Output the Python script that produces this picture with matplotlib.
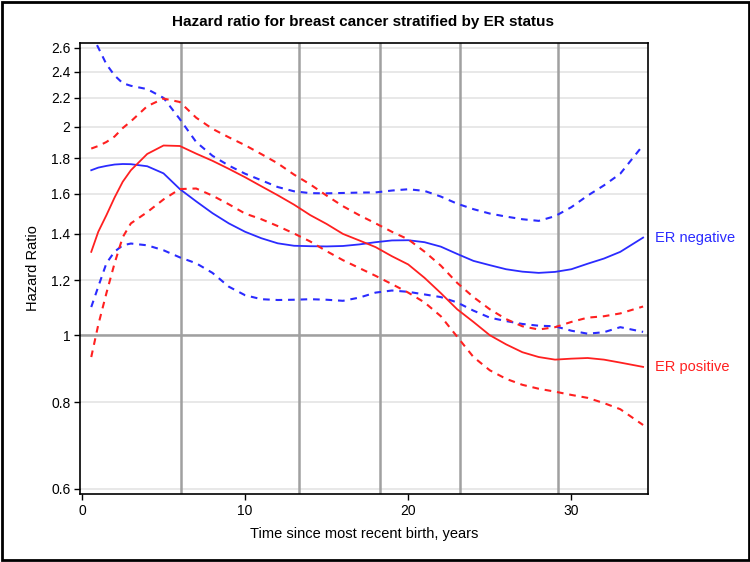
import numpy as np
import matplotlib
matplotlib.use("Agg")
import matplotlib.pyplot as plt
from matplotlib.ticker import FixedLocator, NullLocator
from matplotlib.patches import Rectangle
from matplotlib.transforms import blended_transform_factory

plt.rcParams['font.family'] = ['Liberation Sans', 'DejaVu Sans']

# ---- data ----
t = [0.57, 1, 1.5, 2, 2.5, 3, 4, 5, 6, 7, 8, 9, 10, 11, 12, 13, 14, 15, 16, 17,
     18, 19, 20, 21, 22, 23, 24, 25, 26, 27, 28, 29, 30, 31, 32, 33, 34.4]

er_neg_hr = [1.73, 1.745, 1.755, 1.763, 1.766, 1.765, 1.753, 1.712, 1.625, 1.56, 1.50, 1.45,
             1.41, 1.38, 1.357, 1.346, 1.344, 1.343, 1.345, 1.352, 1.362, 1.37, 1.371, 1.362,
             1.342, 1.31, 1.28, 1.262, 1.245, 1.235, 1.23, 1.234, 1.245, 1.268, 1.29, 1.319, 1.383]
er_neg_lo = [1.098, 1.175, 1.27, 1.32, 1.348, 1.356, 1.348, 1.326, 1.295, 1.27, 1.23, 1.175,
             1.142, 1.127, 1.124, 1.125, 1.127, 1.125, 1.121, 1.133, 1.152, 1.16, 1.155, 1.145,
             1.135, 1.115, 1.085, 1.06, 1.048, 1.038, 1.032, 1.03, 1.015, 1.005, 1.01, 1.027, 1.011]
er_neg_hi = [2.72, 2.60, 2.46, 2.37, 2.31, 2.29, 2.265, 2.20, 2.05, 1.90, 1.815, 1.757,
             1.71, 1.673, 1.636, 1.613, 1.603, 1.602, 1.604, 1.606, 1.607, 1.617, 1.624, 1.615,
             1.585, 1.548, 1.52, 1.498, 1.483, 1.47, 1.462, 1.485, 1.53, 1.59, 1.645, 1.71, 1.88]

er_pos_hr = [1.319, 1.41, 1.49, 1.58, 1.665, 1.73, 1.826, 1.878, 1.875, 1.828, 1.785, 1.738,
             1.69, 1.64, 1.592, 1.543, 1.49, 1.447, 1.40, 1.37, 1.34, 1.30, 1.265, 1.21,
             1.15, 1.09, 1.045, 1.0, 0.97, 0.945, 0.93, 0.922, 0.925, 0.927, 0.922, 0.913, 0.90]
er_pos_lo = [0.93, 1.035, 1.15, 1.27, 1.385, 1.45, 1.505, 1.57, 1.625, 1.628, 1.59, 1.545,
             1.498, 1.47, 1.437, 1.402, 1.365, 1.322, 1.283, 1.25, 1.218, 1.185, 1.152, 1.115,
             1.065, 0.995, 0.93, 0.89, 0.865, 0.848, 0.837, 0.829, 0.82, 0.812, 0.798, 0.782, 0.742]
er_pos_hi = [1.859, 1.875, 1.90, 1.935, 1.99, 2.035, 2.14, 2.195, 2.17, 2.06, 1.985, 1.93,
             1.88, 1.825, 1.77, 1.705, 1.65, 1.59, 1.535, 1.49, 1.45, 1.41, 1.375, 1.32,
             1.26, 1.19, 1.135, 1.09, 1.055, 1.03, 1.019, 1.027, 1.045, 1.06, 1.065, 1.075, 1.10]

vlines = [6.1, 13.3, 18.3, 23.2, 29.2]
yticks = [0.6, 0.8, 1, 1.2, 1.4, 1.6, 1.8, 2, 2.2, 2.4, 2.6]
ytick_labels = ["0.6", "0.8", "1", "1.2", "1.4", "1.6", "1.8", "2", "2.2", "2.4", "2.6"]
xticks = [0, 10, 20, 30]

BLUE = "#2b2bff"
RED = "#ff2020"

fig = plt.figure(figsize=(7.5, 5.62), dpi=100)
ax = fig.add_axes([80/750, 1-494/562, (648-80)/750, (494-43)/562])
ax.set_yscale('log')
ax.set_xlim(-0.12, 34.7)
ax.set_ylim(0.59, 2.64)

for y in yticks:
    ax.axhline(y, color="#e4e4e4", lw=1.2, zorder=0)
ax.axhline(1, color="#a0a0a0", lw=1.8, zorder=1)
for v in vlines:
    ax.axvline(v, color="#a0a0a0", lw=1.8, zorder=1)

dash = (0, (3.2, 2.8))
ax.plot(t, er_neg_hr, color=BLUE, lw=1.3, zorder=3)
ax.plot(t, er_neg_lo, color=BLUE, lw=1.5, ls=dash, zorder=3)
ax.plot(t, er_neg_hi, color=BLUE, lw=1.5, ls=dash, zorder=3)
ax.plot(t, er_pos_hr, color=RED, lw=1.3, zorder=3)
ax.plot(t, er_pos_lo, color=RED, lw=1.5, ls=dash, zorder=3)
ax.plot(t, er_pos_hi, color=RED, lw=1.5, ls=dash, zorder=3)

ax.yaxis.set_major_locator(FixedLocator(yticks))
ax.yaxis.set_minor_locator(NullLocator())
ax.set_yticklabels(ytick_labels)
ax.set_xticks(xticks)
ax.tick_params(axis='both', labelsize=10, length=4, width=1, color='black', pad=3)

for s in ax.spines.values():
    s.set_color('black')
    s.set_linewidth(1.2)

ax.set_xlabel("Time since most recent birth, years", fontsize=10.5, labelpad=7)
ax.set_ylabel("Hazard Ratio", fontsize=10.5, labelpad=8)
fig.text(363/750, 1-22/562, "Hazard ratio for breast cancer stratified by ER status",
         ha='center', va='center', fontsize=11, fontweight='bold')

tr = blended_transform_factory(fig.transFigure, ax.transData)
fig.text(655/750, er_neg_hr[-1], "ER negative", transform=tr,
         color=BLUE, fontsize=10.5, va='center', ha='left')
fig.text(655/750, er_pos_hr[-1], "ER positive", transform=tr,
         color=RED, fontsize=10.5, va='center', ha='left')

fig.patches.append(Rectangle((0.002, 0.003), 0.996, 0.994, transform=fig.transFigure,
                             fill=False, edgecolor='black', lw=2))
fig.savefig("out.png", dpi=100)
